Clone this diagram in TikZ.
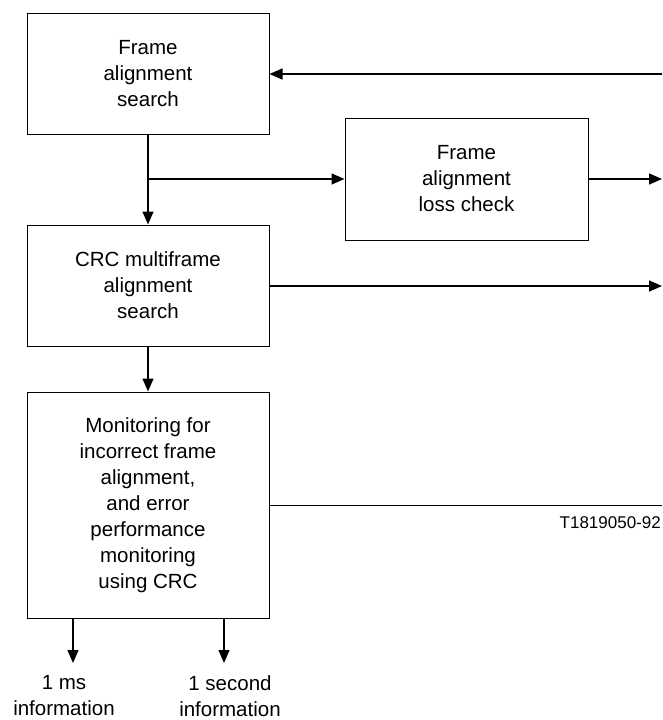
\documentclass[tikz,border=0pt]{standalone}
\usepackage{fontspec}
\setmainfont{Liberation Sans}
\usepackage{tikz}
\usetikzlibrary{arrows.meta}

\begin{document}
\begin{tikzpicture}[x=1pt,y=-1pt,
  box/.style={draw, line width=1pt, align=center, inner sep=0pt,
    font=\fontsize{20.5}{26}\selectfont},
  lbl/.style={align=center, inner sep=0pt, font=\fontsize{20.5}{26}\selectfont},
  arr/.style={line width=1.4pt, -{Triangle[length=13pt,width=11pt]}}]
\useasboundingbox (0,0) rectangle (662,720);
% Blocks
\node[box, minimum width=242pt, minimum height=121pt] (fas) at (148,73.5) {Frame\\alignment\\search};
\node[box, minimum width=243pt, minimum height=122pt] (flc) at (466.5,179) {Frame\\alignment\\loss check};
\node[box, minimum width=242pt, minimum height=121pt] (crc) at (148,285.5) {CRC multiframe\\alignment\\search};
\node[box, minimum width=242pt, minimum height=226pt] (mon) at (148,505) {Monitoring for\\incorrect frame\\alignment,\\and error\\performance\\monitoring\\using CRC};
% Outputs
\node[lbl] (ms) at (64,696) {1 ms\\information};
\node[lbl] (sec) at (230,696) {1 second\\information};
\node[font=\fontsize{17}{20}\selectfont, inner sep=0pt, anchor=east] (ref) at (661,523) {T1819050-92};
% Free ends on the right
\coordinate (in1) at (662,74);
\coordinate (out1) at (662,179);
\coordinate (out2) at (662,286);
\coordinate (out3) at (662,505);
\coordinate (ms-in) at (73,663);
\coordinate (sec-in) at (224,663);
% Connections
\draw[arr] (in1) -- (fas.east |- in1);
\draw[arr] (fas.south) -- (crc.north);
\draw[arr] (fas.south |- flc.west) -- (flc.west);
\draw[arr] (flc.east) -- (out1);
\draw[arr] (crc.east |- out2) -- (out2);
\draw[arr] (crc.south) -- (mon.north);
\draw[line width=1pt] (mon.east) -- (out3);
\draw[arr] (mon.south -| ms-in) -- (ms-in);
\draw[arr] (mon.south -| sec-in) -- (sec-in);
\end{tikzpicture}
\end{document}
